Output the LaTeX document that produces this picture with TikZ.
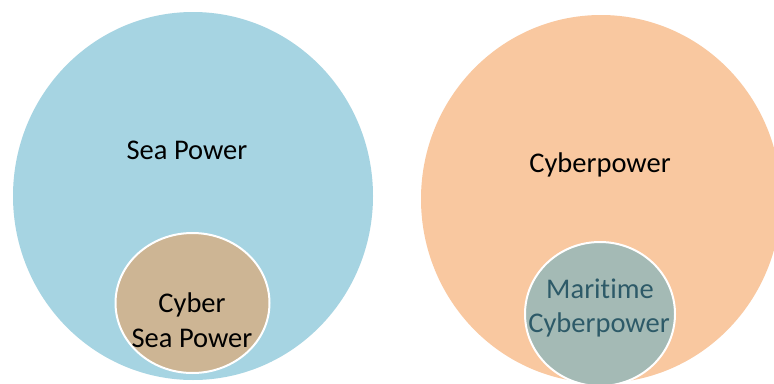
\documentclass[tikz,border=0pt]{standalone}
\usepackage{fontspec}
\setmainfont[Ligatures={NoCommon}]{Carlito}
\usetikzlibrary{shapes.geometric}
\definecolor{seablue}{HTML}{A6D4E2}
\definecolor{tan}{HTML}{CDB594}
\definecolor{peach}{HTML}{F9C8A0}
\definecolor{tealgray}{HTML}{A4BAB5}
\definecolor{tealtext}{HTML}{2D5A68}
\tikzset{
  bigcirc/.style={ellipse, draw=none, inner sep=0pt},
  smallcirc/.style={ellipse, draw=white, line width=2pt, inner sep=0pt},
  lbl/.style={anchor=base, inner sep=0pt, font=\fontsize{28.5}{35}\selectfont},
}
\begin{document}
\begin{tikzpicture}[x=1pt,y=-1pt]
\useasboundingbox (0,0) rectangle (774,383);
\clip (0,0) rectangle (774,383);
\fill[white] (0,0) rectangle (774,383);
% left
\node[bigcirc, fill=seablue, minimum width=360pt, minimum height=368pt] (sea) at (193,196) {};
\node[smallcirc, fill=tan, minimum width=154pt, minimum height=140pt] (cybersea) at (192.5,303) {};
\node[lbl] (seatxt) at (187,159) {Sea Power};
\node[lbl] (cstxt1) at (192,312) {Cyber};
\node[lbl] (cstxt2) at (192,347) {Sea Power};
% right
\node[bigcirc, fill=peach, minimum width=360pt, minimum height=368pt] (cyber) at (601,199) {};
\node[smallcirc, fill=tealgray, minimum width=150pt, minimum height=144pt] (maritime) at (600,314) {};
\node[lbl] (cytxt) at (600,172) {Cyberpower};
\node[lbl, text=tealtext] (mctxt1) at (600,298) {Maritime};
\node[lbl, text=tealtext] (mctxt2) at (599,332) {Cyberpower};
\end{tikzpicture}
\end{document}
